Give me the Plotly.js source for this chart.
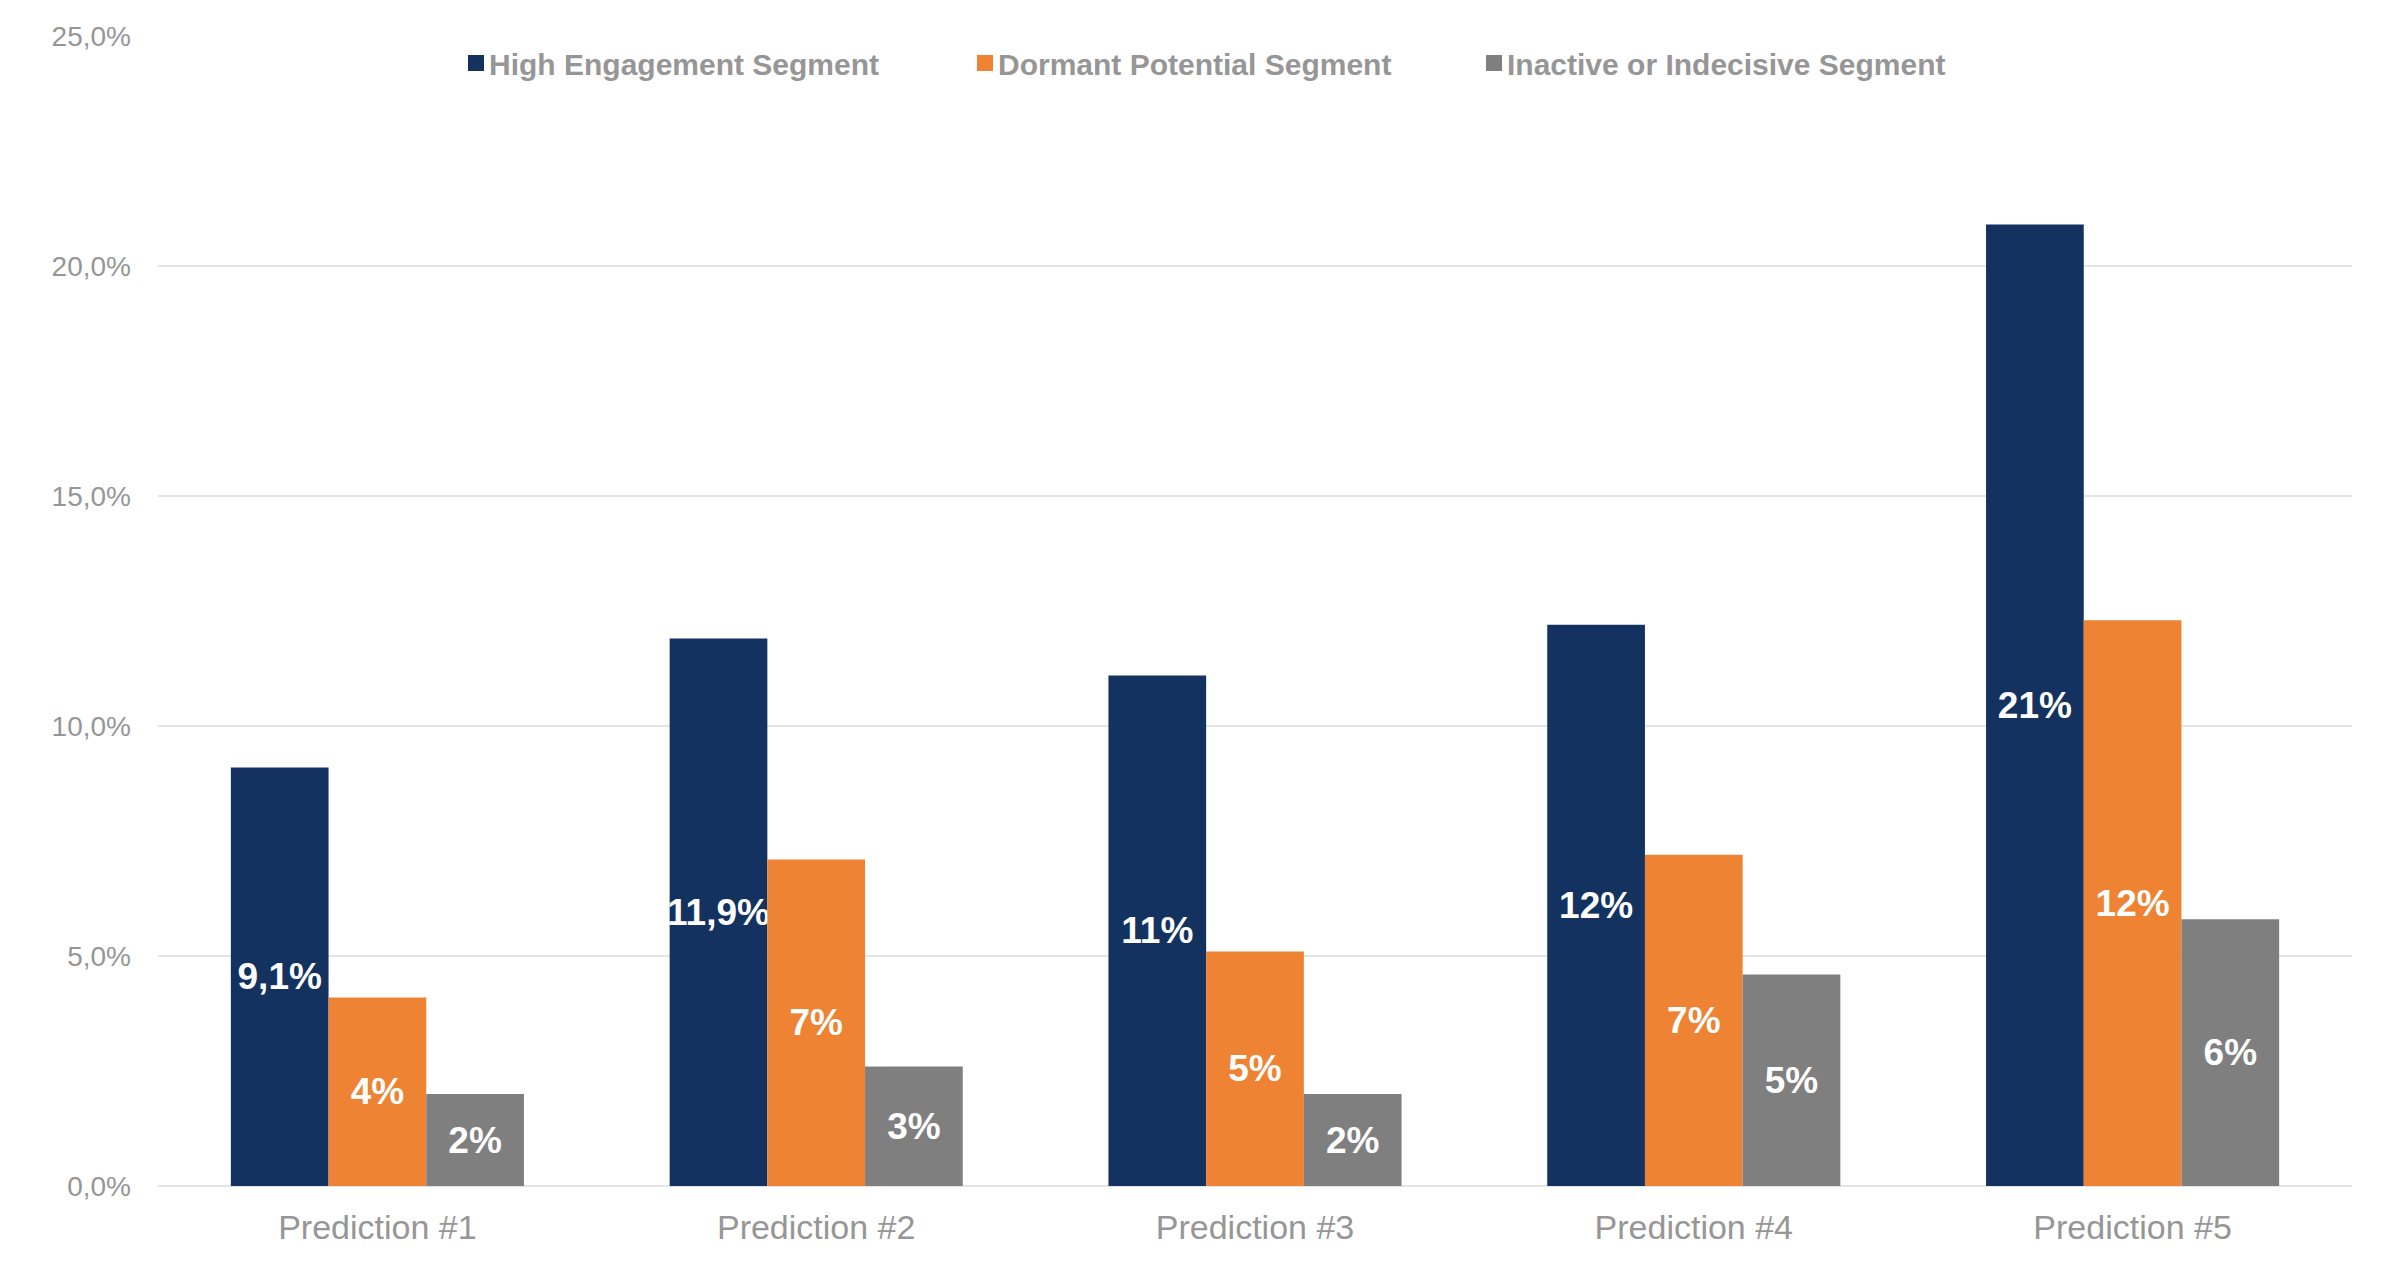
<!DOCTYPE html>
<html>
<head>
<meta charset="utf-8">
<script src="https://cdn.plot.ly/plotly-3.0.1.min.js"></script>
<style>
  html, body { margin: 0; padding: 0; background: #ffffff; }
  #chart { width: 2406px; height: 1280px; }
</style>
</head>
<body>
<div id="chart"></div>
<script>
const categories = ["Prediction #1", "Prediction #2", "Prediction #3", "Prediction #4", "Prediction #5"];

const seriesNames = ["High Engagement Segment", "Dormant Potential Segment", "Inactive or Indecisive Segment"];

const highEngagement = [9.1, 11.9, 11.1, 12.2, 20.9];
const dormantPotential = [4.1, 7.1, 5.1, 7.2, 12.3];
const inactiveIndecisive = [2.0, 2.6, 2.0, 4.6, 5.8];

const highEngagementLabels = ["9,1%", "11,9%", "11%", "12%", "21%"];
const dormantPotentialLabels = ["4%", "7%", "5%", "7%", "12%"];
const inactiveIndecisiveLabels = ["2%", "3%", "2%", "5%", "6%"];

const yTickValues = [0, 5, 10, 15, 20, 25];
const yTickLabels = ["0,0%", "5,0%", "10,0%", "15,0%", "20,0%", "25,0%"];

const colors = ["#14325F", "#ED8333", "#7F7F7F"];

const FONT = "Liberation Sans, Arial, Helvetica, sans-serif";

function barTrace(name, values, labels, color) {
  return {
    type: "bar",
    name: name,
    x: categories,
    y: values,
    text: labels,
    textposition: "inside",
    insidetextanchor: "middle",
    textangle: 0,
    constraintext: "none",
    insidetextfont: { family: FONT, size: 37, color: "#ffffff", weight: "bold" },
    marker: { color: color, line: { width: 0 } },
    hoverinfo: "x+y+name"
  };
}

const data = [
  barTrace(seriesNames[0], highEngagement, highEngagementLabels, colors[0]),
  barTrace(seriesNames[1], dormantPotential, dormantPotentialLabels, colors[1]),
  barTrace(seriesNames[2], inactiveIndecisive, inactiveIndecisiveLabels, colors[2])
];

const layout = {
  width: 2406,
  height: 1280,
  margin: { l: 158, r: 54, t: 36, b: 94, pad: 0 },
  paper_bgcolor: "#ffffff",
  plot_bgcolor: "#ffffff",
  separators: ",.",
  barmode: "group",
  bargap: 0.332,
  bargroupgap: 0,
  font: { family: FONT, color: "#969696" },
  showlegend: true,
  legend: {
    orientation: "h",
    x: (449 - 158) / 2194,
    xanchor: "left",
    y: (1186 - 63) / 1150,
    yanchor: "middle",
    bgcolor: "rgba(0,0,0,0)",
    borderwidth: 0,
    entrywidth: 464,
    entrywidthmode: "pixels",
    font: { family: FONT, size: 30, color: "#969696", weight: "bold" },
    traceorder: "normal"
  },
  xaxis: {
    type: "category",
    showgrid: false,
    showline: false,
    zeroline: false,
    ticks: "",
    tickfont: { family: FONT, size: 34, color: "#969696" },
    ticklabelstandoff: 18
  },
  yaxis: {
    range: [0, 25],
    tickvals: yTickValues,
    ticktext: yTickLabels,
    showgrid: true,
    gridcolor: "#e4e4e4",
    gridwidth: 1.5,
    zeroline: true,
    zerolinecolor: "#e4e4e4",
    zerolinewidth: 1.5,
    showline: false,
    ticks: "",
    tickfont: { family: FONT, size: 28, color: "#969696" },
    ticklabelstandoff: 26
  }
};

Plotly.newPlot("chart", data, layout, { displayModeBar: false, staticPlot: true }).then(function (gd) {
  gd.querySelectorAll(".legend .traces .legendpoints path").forEach(function (p) {
    p.setAttribute("transform", "translate(27,0) scale(1.333)");
  });
});
</script>
</body>
</html>
